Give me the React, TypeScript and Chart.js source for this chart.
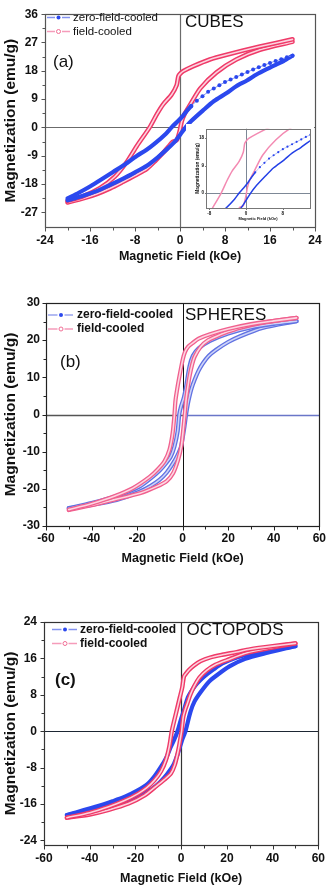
import React, { useEffect, useRef } from 'react';
import { Chart, registerables } from 'chart.js';

Chart.register(...registerables);

const FONT = '"Liberation Sans", Arial, Helvetica, sans-serif';

// ---------------- (a) CUBES ----------------
// "Down" = field swept from +H to -H (upper branch), "Up" = -H to +H (lower branch)
const cubesFcDownX = [20, 14.2, 8.3, 5.3, 2.4, 0.6, 0, -0.3, -0.6, -1.5, -3, -4.1, -5.4, -7.7, -9.5, -11.6, -14.2, -17.2, -20];
const cubesFcDownY = [28, 25.7, 23.1, 21.6, 19.5, 17.9, 17, 16.2, 13.4, 10.4, 7.3, 4.2, 0, -6, -11.1, -15.7, -19.3, -21.9, -23.4];
const cubesFcUpX = [-20, -17.2, -14.8, -12.4, -10.1, -8, -5.9, -4.3, -3, -2, -1.3, -0.6, -0.1, 0.3, 0.8, 1.8, 3.6, 6.5, 10, 14.2, 20];
const cubesFcUpY = [-23.9, -22.6, -21.2, -19.4, -17.3, -15.3, -13.2, -10.5, -8.1, -6, -4.6, -4.1, -1.5, 1.8, 4.2, 7.2, 12.4, 17.5, 21.6, 24.7, 27.2];
const cubesZfcDotsX = [20, 19, 18, 17, 16, 15, 14, 13, 12, 11, 10, 9, 8, 7, 6, 5, 4, 3, 2];
const cubesZfcDotsY = [22.8, 22.3, 21.7, 21.1, 20.5, 19.8, 19.1, 18.4, 17.6, 16.8, 16.0, 15.2, 14.4, 13.4, 12.4, 11.3, 9.9, 8.5, 6.8];
const cubesZfcDownX = [2, 1.2, 0.4, -0.3, -1.5, -2.5, -4.4, -6, -7.7, -9.8, -11.9, -14, -16, -18, -20];
const cubesZfcDownY = [6.8, 5.2, 3.4, 2.1, 0, -2, -5, -7.2, -9.1, -11.8, -14.2, -16.6, -18.8, -20.8, -22.6];
const cubesZfcUpX = [-20, -17.5, -14.8, -12.5, -10.1, -8, -5.9, -4, -2.4, -1, 0, 1, 2, 4.1, 6, 8.3, 10, 11.9, 13.6, 15.4, 17, 18.4, 20];
const cubesZfcUpY = [-23.2, -21.9, -20.3, -18.4, -16.3, -14.3, -12.2, -9.6, -7.1, -4.7, -2.4, 0, 2, 5.4, 8.3, 10.9, 13.1, 14.9, 16.8, 18.5, 19.9, 21.1, 22.8];
const cubesXTicks = [-24, -16, -8, 0, 8, 16, 24];
const cubesYTicks = [-27, -18, -9, 0, 9, 18, 27, 36];
const insetXTicks = [-8, 0, 8];
const insetYTicks = [0, 9, 18];

// ---------------- (b) SPHERES ----------------
const spheresFcDownX = [50, 40, 30, 20, 12, 7, 4.5, 2.5, 1, 0, -1.4, -2.5, -3.2, -3.6, -4.4, -5.8, -8, -11, -14.5, -21.8, -30, -40, -50];
const spheresFcDownY = [26, 25.2, 24.3, 23, 21.6, 20.4, 19.3, 18.3, 16.8, 14.7, 10.3, 6.5, 3.5, 0, -5, -9.5, -12.6, -14.8, -16.8, -19.8, -22, -24, -25.6];
const spheresFcUpX = [-50, -40, -30, -18.8, -11.5, -7, -4.2, -2, -0.6, 0.1, 0.9, 1.5, 2.3, 3, 4.2, 5.3, 8, 11, 14.7, 20, 25, 36, 50];
const spheresFcUpY = [-25.7, -24.4, -22.9, -21.2, -19.4, -17.9, -15.8, -12.2, -8.6, -5, 0, 4, 7.5, 10.2, 13.5, 15.6, 18.3, 19.9, 21, 22.3, 23.3, 24.8, 26];
const spheresZfcDownX = [50, 40, 30, 20, 12, 7, 4.5, 3, 1.5, 0.5, -0.7, -1.5, -2.2, -3.6, -5.2, -7.3, -10, -13.1, -19, -29, -40, -50];
const spheresZfcDownY = [25.1, 24.4, 23.4, 21.8, 19.8, 17.8, 15.8, 12.9, 7.5, 4.5, 2.2, 0, -4.5, -8.6, -11.3, -13.1, -15, -16.7, -19.4, -21.9, -23.8, -25.2];
const spheresZfcUpX = [-50, -40, -29, -19, -14, -10.2, -7, -4.2, -2.3, -0.7, 0.8, 1.5, 2.2, 3, 4, 5.3, 7, 8.9, 11.5, 14.7, 20, 25, 35, 50];
const spheresZfcUpY = [-25.2, -24.3, -23, -20.8, -19.2, -17.6, -15.6, -13.1, -11, -8.6, -3.2, 0, 2.6, 4.9, 7.2, 9.4, 11.8, 13.8, 15.8, 17.4, 19.5, 21, 23.3, 25.1];
const spheresXTicks = [-60, -40, -20, 0, 20, 40, 60];
const spheresYTicks = [-30, -20, -10, 0, 10, 20, 30];

// ---------------- (c) OCTOPODS ----------------
const octoFcDownX = [50, 40, 30, 24.3, 18, 12.7, 8.5, 5.5, 3.5, 2, 1.2, 0.5, -0.5, -1.6, -3, -4.1, -5.2, -6.7, -8.8, -11.7, -15, -18.8, -25, -31.7, -40, -50];
const octoFcDownY = [19.3, 18.7, 18, 17.4, 16.8, 16.2, 15.4, 14.4, 13.5, 12.6, 12, 9.7, 7.6, 5.3, 2.4, 0, -3.4, -6.4, -8.8, -10.8, -12.4, -13.7, -15.3, -16.6, -17.9, -19];
const octoFcUpX = [-50, -40, -31.7, -23, -16, -11.7, -7.5, -4.5, -2.8, -1.6, -0.8, -0.3, 0.2, 0.9, 1.8, 2.7, 4, 5.5, 8, 11.3, 15, 19.9, 28.5, 40, 50];
const octoFcUpY = [-19, -18.3, -17.3, -15.9, -14.1, -12.4, -10.7, -9.3, -7.4, -5, -3, -1.5, 0, 3.1, 4.8, 6.1, 8, 9.7, 11.8, 13.4, 14.6, 15.6, 17.2, 18.4, 19.3];
const octoZfcDownX = [50, 40, 30, 24.3, 18, 14.2, 10, 7, 5, 3, 1.2, -0.2, -1.6, -3, -4.5, -6.5, -8.8, -11.5, -14.5, -19, -24.6, -30, -36, -50];
const octoZfcDownY = [18.7, 18, 17, 16.2, 14.9, 13.6, 12, 10.5, 9.2, 7.5, 4.6, 2.4, 0, -1.8, -3.4, -5.8, -7.8, -9.8, -11.5, -13, -14.4, -15.4, -16.4, -18.4];
const octoZfcUpX = [-50, -40, -28.9, -20, -14.5, -11, -7.4, -4.5, -3.1, -1.5, -0.5, 0.5, 1.2, 1.9, 2.4, 4.1, 5.8, 8.4, 12, 15.6, 21.3, 28, 35.7, 50];
const octoZfcUpY = [-18.4, -17.4, -16, -14.5, -13.2, -12, -10.2, -8.3, -7.1, -5, -3.4, -1.8, -0.9, 0, 1, 4.3, 6.5, 8.5, 10.8, 12.3, 14.3, 15.9, 17, 18.7];
const octoXTicks = [-60, -40, -20, 0, 20, 40, 60];
const octoYTicks = [-24, -16, -8, 0, 8, 16, 24];

const legendLabels = ['zero-field-cooled', 'field-cooled'];
const xTitle = 'Magnetic Field (kOe)';
const yTitle = 'Magnetization (emu/g)';

// ---------------- helpers ----------------
function pts(xs: number[], ys: number[]) {
  return xs.map((x, i) => ({ x, y: ys[i] }));
}

function line(xs: number[], ys: number[], color: string, width: number, extra: any = {}) {
  return {
    data: pts(xs, ys),
    borderColor: color,
    backgroundColor: color,
    borderWidth: width,
    pointRadius: 0,
    showLine: true,
    tension: 0.25,
    fill: false,
    borderCapStyle: 'round',
    borderJoinStyle: 'round',
    ...extra,
  };
}

function ring(xs: number[], ys: number[], edge: string, core: string, we: number, wc: number) {
  return [line(xs, ys, core, wc), line(xs, ys, edge, we)];
}

function minorsOf(major: number[], min: number, max: number) {
  const out: number[] = [];
  const step = major[1] - major[0];
  for (let i = 0; i < major.length - 1; i++) out.push((major[i] + major[i + 1]) / 2);
  const lo = major[0] - step / 2;
  if (lo > min) out.push(lo);
  const hi = major[major.length - 1] + step / 2;
  if (hi < max) out.push(hi);
  return out;
}

interface TextItem { text: string; x: number; y: number; font: string; color?: string }
interface Panel {
  left: number; top: number; width: number; height: number;
  area: { l: number; r: number; t: number; b: number };
  xr: { min: number; max: number; ticks: number[] };
  yr: { min: number; max: number; ticks: number[] };
  datasets: any[];
  tickFont: number; tickPadX: number; tickPadY: number;
  xTitle?: { size: number; padBottom: number };
  yTitle?: { size: number; padTop: number };
  frameColor: string; frameWidth: number;
  zeroH: { color: string; width: number; rightColor?: string };
  zeroV: { color: string; width: number };
  tickLen: [number, number]; minors: boolean;
  legend?: { x0: number; x1: number; mx: number; tx: number; rows: [number, number]; font: string; dashBlue: string; dashPink: string };
  texts: TextItem[];
  background?: string;
}

const BLUE = '#2b48ee';
const RED = '#ef3a68';
const PINK_CORE = '#fcd3df';

const panelA: Panel = {
  left: 0, top: 0, width: 331, height: 270,
  area: { l: 45, r: 315, t: 7, b: 227 },
  xr: { min: -24, max: 24, ticks: cubesXTicks },
  yr: { min: -31.7, max: 36, ticks: cubesYTicks },
  datasets: [
    line(cubesZfcDotsX, cubesZfcDotsY, '#7486f0', 1, { pointRadius: 2, pointBackgroundColor: BLUE, pointBorderWidth: 0 }),
    line(cubesZfcDownX, cubesZfcDownY, BLUE, 4.2),
    line(cubesZfcUpX, cubesZfcUpY, BLUE, 4.2),
    ...ring(cubesFcDownX, cubesFcDownY, RED, PINK_CORE, 4.6, 1.6),
    ...ring(cubesFcUpX, cubesFcUpY, RED, PINK_CORE, 4.6, 1.6),
  ],
  tickFont: 12, tickPadX: 6, tickPadY: 7,
  xTitle: { size: 12.5, padBottom: 5.5 },
  yTitle: { size: 15.5, padTop: 1.2 },
  frameColor: '#555', frameWidth: 1.2,
  zeroH: { color: '#6b6b6b', width: 1.2 },
  zeroV: { color: '#6b6b6b', width: 1.2 },
  tickLen: [4, 3], minors: true,
  legend: { x0: 47, x1: 70, mx: 58.5, tx: 73, rows: [17.5, 31.5], font: `11.5px ${FONT}`, dashBlue: '#8392f0', dashPink: '#f59cba' },
  texts: [
    { text: 'CUBES', x: 185, y: 22, font: `17px ${FONT}` },
    { text: '(a)', x: 53, y: 62, font: `17px ${FONT}` },
  ],
};

const panelInset: Panel = {
  left: 186, top: 124, width: 128, height: 102,
  area: { l: 20, r: 126, t: 4, b: 84 },
  xr: { min: -8.7, max: 13.9, ticks: insetXTicks },
  yr: { min: -4.9, max: 21.1, ticks: insetYTicks },
  datasets: [
    line(cubesZfcDotsX, cubesZfcDotsY, '#a4aef2', 0.8, { pointRadius: 1.1, pointBackgroundColor: '#2a46ee', pointBorderWidth: 0 }),
    line(cubesZfcDownX, cubesZfcDownY, '#2340e6', 1.5),
    line(cubesZfcUpX, cubesZfcUpY, '#2340e6', 1.5),
    line(cubesFcDownX, cubesFcDownY, '#f38ab2', 1.5),
    line(cubesFcUpX, cubesFcUpY, '#f38ab2', 1.5),
  ],
  tickFont: 4.5, tickPadX: 2.6, tickPadY: 2,
  xTitle: { size: 4, padBottom: 4.3 },
  yTitle: { size: 4.8, padTop: 9 },
  frameColor: '#777', frameWidth: 1,
  zeroH: { color: '#7d8896', width: 1 },
  zeroV: { color: '#7d8896', width: 1 },
  tickLen: [1.5, 0], minors: false,
  texts: [],
  background: '#ffffff',
};

const panelB: Panel = {
  left: 0, top: 280, width: 331, height: 290,
  area: { l: 46, r: 320, t: 23, b: 246 },
  xr: { min: -60, max: 60, ticks: spheresXTicks },
  yr: { min: -30, max: 30, ticks: spheresYTicks },
  datasets: [
    ...ring(spheresFcDownX, spheresFcDownY, '#f0608e', '#fdd6e2', 4.2, 1.6),
    ...ring(spheresFcUpX, spheresFcUpY, '#f0608e', '#fdd6e2', 4.2, 1.6),
    ...ring(spheresZfcDownX, spheresZfcDownY, '#6172e2', '#cdd3f8', 4.2, 1.6),
    ...ring(spheresZfcUpX, spheresZfcUpY, '#6172e2', '#cdd3f8', 4.2, 1.6),
  ],
  tickFont: 12, tickPadX: 5, tickPadY: 6,
  xTitle: { size: 12.5, padBottom: 4.2 },
  yTitle: { size: 15.5, padTop: 1.5 },
  frameColor: '#222', frameWidth: 1.2,
  zeroH: { color: '#555', width: 1.5, rightColor: '#6a76c8' },
  zeroV: { color: '#111', width: 1 },
  tickLen: [4, 3], minors: true,
  legend: { x0: 48, x1: 73, mx: 61, tx: 77, rows: [35, 49], font: `bold 12px ${FONT}`, dashBlue: '#9aa5ee', dashPink: '#f59cba' },
  texts: [
    { text: 'SPHERES', x: 185, y: 35, font: `17px ${FONT}` },
    { text: '(b)', x: 60, y: 82.5, font: `17px ${FONT}` },
  ],
};

const panelC: Panel = {
  left: 0, top: 590, width: 331, height: 297,
  area: { l: 44, r: 323, t: 32, b: 255 },
  xr: { min: -60, max: 60, ticks: octoXTicks },
  yr: { min: -25, max: 24, ticks: octoYTicks },
  datasets: [
    ...ring(octoFcDownX, octoFcDownY, RED, PINK_CORE, 4.4, 1.6),
    ...ring(octoFcUpX, octoFcUpY, RED, PINK_CORE, 4.4, 1.6),
    line(octoZfcDownX, octoZfcDownY, BLUE, 4.2),
    line(octoZfcUpX, octoZfcUpY, BLUE, 4.2),
  ],
  tickFont: 12, tickPadX: 6, tickPadY: 7,
  xTitle: { size: 12.5, padBottom: 1.2 },
  yTitle: { size: 15.5, padTop: 1 },
  frameColor: '#333', frameWidth: 1.2,
  zeroH: { color: '#1d2633', width: 1.2 },
  zeroV: { color: '#333', width: 1.2 },
  tickLen: [4, 3], minors: true,
  legend: { x0: 52, x1: 77, mx: 65, tx: 80, rows: [39.5, 53.5], font: `bold 12px ${FONT}`, dashBlue: '#8392f0', dashPink: '#f59cba' },
  texts: [
    { text: 'OCTOPODS', x: 186.5, y: 40.5, font: `17px ${FONT}` },
    { text: '(c)', x: 55, y: 90, font: `bold 17px ${FONT}` },
  ],
};

const PANELS = [panelA, panelInset, panelB, panelC];

function overlay(p: Panel) {
  return {
    id: 'overlay',
    beforeDatasetsDraw(chart: any) {
      const { ctx, chartArea: a } = chart;
      const xs = chart.scales.x, ys = chart.scales.y;
      const x0 = Math.round(xs.getPixelForValue(0)) + 0.5;
      const y0 = Math.round(ys.getPixelForValue(0)) + 0.5;
      ctx.save();
      ctx.lineWidth = p.zeroV.width;
      ctx.strokeStyle = p.zeroV.color;
      ctx.beginPath(); ctx.moveTo(x0, a.top); ctx.lineTo(x0, a.bottom); ctx.stroke();
      ctx.lineWidth = p.zeroH.width;
      ctx.strokeStyle = p.zeroH.color;
      ctx.beginPath(); ctx.moveTo(a.left, y0); ctx.lineTo(p.zeroH.rightColor ? x0 : a.right, y0); ctx.stroke();
      if (p.zeroH.rightColor) {
        ctx.strokeStyle = p.zeroH.rightColor;
        ctx.beginPath(); ctx.moveTo(x0, y0); ctx.lineTo(a.right, y0); ctx.stroke();
      }
      ctx.restore();
    },
    afterDatasetsDraw(chart: any) {
      const { ctx, chartArea: a } = chart;
      const xs = chart.scales.x, ys = chart.scales.y;
      ctx.save();
      // frame
      ctx.strokeStyle = p.frameColor;
      ctx.lineWidth = p.frameWidth;
      const L = Math.round(a.left) + 0.5, T = Math.round(a.top) + 0.5;
      const R = Math.round(a.right) + 0.5, B = Math.round(a.bottom) + 0.5;
      ctx.strokeRect(L, T, R - L, B - T);
      // ticks
      const drawX = (vals: number[], len: number) => {
        vals.forEach((v) => {
          const px = Math.round(xs.getPixelForValue(v)) + 0.5;
          if (px < L - 0.1 || px > R + 0.1) return;
          ctx.beginPath(); ctx.moveTo(px, B); ctx.lineTo(px, B + len); ctx.stroke();
        });
      };
      const drawY = (vals: number[], len: number) => {
        vals.forEach((v) => {
          const py = Math.round(ys.getPixelForValue(v)) + 0.5;
          if (py < T - 0.1 || py > B + 0.1) return;
          if (Math.abs(py - B) < 2.5 && len < p.tickLen[0]) return;
          ctx.beginPath(); ctx.moveTo(L - len, py); ctx.lineTo(L, py); ctx.stroke();
        });
      };
      ctx.lineWidth = 1;
      if (p.tickLen[0] > 0) {
        drawX(p.xr.ticks, p.tickLen[0]);
        drawY(p.yr.ticks, p.tickLen[0]);
      }
      if (p.minors) {
        drawX(minorsOf(p.xr.ticks, p.xr.min, p.xr.max), p.tickLen[1]);
        drawY(minorsOf(p.yr.ticks, p.yr.min, p.yr.max), p.tickLen[1]);
      }
      // legend
      if (p.legend) {
        const lg = p.legend;
        const entries = [
          { dash: lg.dashBlue, marker: 'fill', mc: BLUE, text: legendLabels[0], y: lg.rows[0] },
          { dash: lg.dashPink, marker: 'ring', mc: '#f06d94', text: legendLabels[1], y: lg.rows[1] },
        ];
        entries.forEach((e) => {
          ctx.strokeStyle = e.dash;
          ctx.lineWidth = 1.6;
          ctx.beginPath();
          ctx.moveTo(lg.x0, e.y); ctx.lineTo(lg.mx - 3.5, e.y);
          ctx.moveTo(lg.mx + 3.5, e.y); ctx.lineTo(lg.x1, e.y);
          ctx.stroke();
          ctx.beginPath();
          ctx.arc(lg.mx, e.y, 2, 0, Math.PI * 2);
          if (e.marker === 'fill') { ctx.fillStyle = e.mc; ctx.fill(); }
          else { ctx.strokeStyle = e.mc; ctx.lineWidth = 1; ctx.stroke(); }
          ctx.fillStyle = '#111';
          ctx.font = lg.font;
          ctx.textAlign = 'left';
          ctx.textBaseline = 'middle';
          ctx.fillText(e.text, lg.tx, e.y);
        });
      }
      // texts
      p.texts.forEach((t) => {
        ctx.fillStyle = t.color || '#111';
        ctx.font = t.font;
        ctx.textAlign = 'left';
        ctx.textBaseline = 'middle';
        ctx.fillText(t.text, t.x, t.y);
      });
      ctx.restore();
    },
  };
}

function buildConfig(p: Panel): any {
  const xAxisH = p.height - p.area.b;
  const yAxisW = p.area.l;
  const tickFont = { family: FONT, size: p.tickFont, weight: 'bold' as const };
  const axis = (r: { min: number; max: number; ticks: number[] }, isX: boolean) => ({
    type: 'linear',
    min: r.min,
    max: r.max,
    afterBuildTicks: (s: any) => { s.ticks = r.ticks.map((v) => ({ value: v })); },
    afterFit: (s: any) => { if (isX) s.height = xAxisH; else s.width = yAxisW; },
    grid: { display: false, drawTicks: false },
    border: { display: false },
    ticks: {
      font: tickFont,
      color: '#111',
      padding: isX ? p.tickPadX : p.tickPadY,
      maxRotation: 0,
      autoSkip: false,
      callback: (v: any) => String(v),
    },
    title: isX
      ? { display: !!p.xTitle, text: xTitle, color: '#111', font: { family: FONT, size: p.xTitle?.size ?? 12, weight: 'bold' }, padding: { top: 0, bottom: p.xTitle?.padBottom ?? 0 } }
      : { display: !!p.yTitle, text: yTitle, color: '#111', font: { family: FONT, size: p.yTitle?.size ?? 12, weight: 'bold' }, padding: { top: p.yTitle?.padTop ?? 0, bottom: 0 } },
  });
  return {
    type: 'scatter',
    data: { datasets: p.datasets },
    options: {
      responsive: false,
      maintainAspectRatio: false,
      animation: false,
      events: [],
      layout: { padding: { left: 0, top: p.area.t, right: p.width - p.area.r, bottom: 0 } },
      scales: { x: axis(p.xr, true), y: axis(p.yr, false) },
      plugins: { legend: { display: false }, tooltip: { enabled: false } },
    },
    plugins: [overlay(p)],
  };
}

function PanelChart({ panel }: { panel: Panel }) {
  const ref = useRef<HTMLCanvasElement | null>(null);
  useEffect(() => {
    if (!ref.current) return;
    const chart = new Chart(ref.current, buildConfig(panel));
    return () => chart.destroy();
  }, [panel]);
  return (
    <canvas
      ref={ref}
      width={panel.width}
      height={panel.height}
      style={{
        position: 'absolute',
        left: panel.left,
        top: panel.top,
        width: panel.width,
        height: panel.height,
        background: panel.background || 'transparent',
      }}
    />
  );
}

export default function App() {
  return (
    <div style={{ position: 'absolute', left: 0, top: 0, width: 331, height: 887, background: '#fff', overflow: 'hidden' }}>
      <PanelChart panel={panelA} />
      <PanelChart panel={panelB} />
      <PanelChart panel={panelC} />
      <PanelChart panel={panelInset} />
    </div>
  );
}
